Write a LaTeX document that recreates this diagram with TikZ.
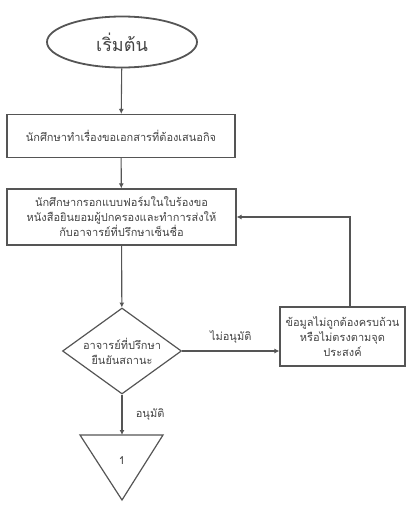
\documentclass[tikz,border=0pt]{standalone}
\usepackage{fontspec}
\newfontfamily\thaifont[Script=Thai]{Loma}
\usetikzlibrary{shapes.geometric,arrows.meta}
\definecolor{ln}{HTML}{555555}
\definecolor{tx}{HTML}{444444}
\tikzset{
  box/.style={draw=ln, line width=1.2pt, rectangle, align=center, text=tx, font=\thaifont\fontsize{11}{15}\selectfont, inner sep=0pt},
  arr/.style={draw=ln, line width=1.1pt, -{Latex[length=5pt,width=5pt]}},
  lbl/.style={text=tx, font=\thaifont\fontsize{11}{13}\selectfont}
}
\begin{document}
\begin{tikzpicture}[x=1pt,y=-1pt]
\useasboundingbox (0,0) rectangle (406,507);
\node[ellipse, draw=ln, line width=1.8pt, minimum width=150pt, minimum height=51pt, text=tx, font=\thaifont\fontsize{18}{20}\selectfont, inner sep=0pt] (start) at (122,42) {เริ่มต้น};
\node[box, minimum width=228pt, minimum height=43pt] (b1) at (121,136) {นักศึกษาทำเรื่องขอเอกสารที่ต้องเสนอกิจ};
\node[box, minimum width=229pt, minimum height=56pt] (b2) at (121.5,217) {นักศึกษากรอกแบบฟอร์มในใบร้องขอ\\หนังสือยินยอมผู้ปกครองและทำการส่งให้\\กับอาจารย์ที่ปรึกษาเซ็นชื่อ};
\node[diamond, draw=ln, line width=1.2pt, minimum width=119pt, minimum height=86pt, aspect=1.38, inner sep=0pt, align=center, text=tx, font=\thaifont\fontsize{11}{15}\selectfont] (d) at (122,351) {อาจารย์ที่ปรึกษา\\ยืนยันสถานะ};
\node[box, minimum width=125pt, minimum height=59pt] (b3) at (342.5,336.5) {ข้อมูลไม่ถูกต้องครบถ้วน\\หรือไม่ตรงตามจุด\\ประสงค์};
\draw[draw=ln, line width=1.2pt] (80,435) -- (163,435) -- (122,500) -- cycle;
\coordinate (tri) at (122,435);
\node[lbl] (one) at (122,461) {1};
\draw[arr] (start) -- (b1);
\draw[arr] (b1) -- (b2);
\draw[arr] (b2) -- (d);
\draw[arr] (d.east) -- node[lbl, above=4pt] {ไม่อนุมัติ} (d.east -| b3.west);
\draw[arr] ([xshift=7.5pt]b3.north) |- (b2.east);
\draw[arr] (d) -- node[lbl, right=10pt] {อนุมัติ} (tri);
\end{tikzpicture}
\end{document}
